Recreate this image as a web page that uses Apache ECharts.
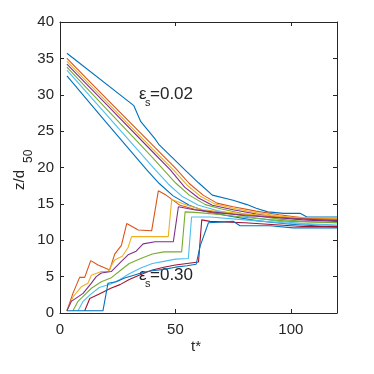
<!DOCTYPE html>
<html>
<head>
<meta charset="utf-8">
<script src="https://cdn.jsdelivr.net/npm/echarts@6/dist/echarts.min.js"></script>
<style>
html,body{margin:0;padding:0;background:#fff}
#main{width:374px;height:374px}
</style>
</head>
<body>
<div id="main"></div>
<script>
// tick values
var xTicks = [0, 50, 100];
var yTicks = [0, 5, 10, 15, 20, 25, 30, 35, 40];

// eps_s = 0.02 group (falling lines), [t*, z/d50]
var up1 = [[3,35.7],[32,28.5],[35,26.3],[41,24.0],[43,23.1],[54,19.7],[60,17.9],[66,16.2],[75,15.5],[81,14.9],[85,14.4],[90,13.9],[97,13.7],[104,13.7],[107,13.2],[120,13.2]];
var up2 = [[3,35.0],[20,29.5],[40,23.1],[50,19.9],[56,17.8],[62,16.2],[68,15.1],[75,14.6],[85,14.0],[95,13.5],[105,13.1],[120,12.9]];
var up3 = [[3,34.6],[20,29.1],[40,22.6],[49,19.7],[55,17.6],[61,16.0],[67,15.0],[75,14.4],[85,13.8],[95,13.3],[105,13.0],[120,12.8]];
var up4 = [[3,34.2],[20,28.7],[40,22.2],[47.7,19.7],[54,17.3],[60,15.8],[66,14.8],[75,14.2],[85,13.6],[95,13.1],[105,12.8],[120,12.6]];
var up5 = [[3,33.8],[20,28.1],[40,21.4],[44.8,19.7],[50,17.9],[56,16.2],[63,14.9],[70,14.3],[80,13.6],[95,12.9],[105,12.6],[120,12.4]];
var up6 = [[3,33.4],[20,27.3],[41.2,19.7],[47,17.7],[53,16.0],[60,14.8],[68,14.1],[80,13.3],[95,12.6],[105,12.3],[120,12.1]];
var up7 = [[3,32.6],[20,26.2],[37.5,19.7],[43,17.8],[49,16.1],[56,14.8],[63,14.0],[72,13.4],[85,12.7],[100,12.2],[120,11.8]];

// eps_s = 0.30 group (rising steps)
var low1 = [[3,0.3],[5.6,2.7],[8.5,4.9],[10.7,4.9],[13.3,7.2],[16.5,6.6],[21.5,5.9],[23.7,8.1],[26.6,9.3],[28.9,12.3],[33.9,11.4],[39.7,11.3],[42.6,16.8],[45.5,16.3],[52,14.8],[59,14.2],[66,13.8],[75,13.6],[90,13.3],[105,13.0],[120,12.9]];
var low2 = [[3,0.3],[5.6,2.2],[9.2,3.6],[12.1,4.1],[13.6,5.2],[17.9,5.7],[20.8,5.7],[23.7,7.3],[27,7.8],[29.5,9.0],[31,10.5],[46.9,10.5],[48.4,15.6],[55,14.8],[62,14.2],[70,13.9],[85,13.5],[100,13.2],[120,13.0]];
var low3 = [[3,0.3],[4.9,1.6],[10,2.7],[13.6,4.1],[15.7,5.0],[17.9,5.5],[22.2,5.7],[26.6,7.1],[29.5,8.0],[33,8.5],[36,9.5],[41.2,9.8],[49.1,9.8],[51.3,14.6],[58,14.2],[66,13.9],[80,13.4],[100,13.0],[120,12.7]];
var low4 = [[5.6,0.3],[7.8,1.6],[10.7,2.5],[13.6,3.4],[17.9,4.3],[22,4.8],[26,5.8],[30,6.8],[35,7.5],[40,8.1],[45,8.4],[52.7,8.4],[54.2,13.9],[60,13.8],[70,13.5],[85,13.0],[100,12.6],[120,12.4]];
var low5 = [[7.8,0.3],[10,1.6],[13,2.5],[17,3.5],[22,4.0],[26,4.6],[30,5.4],[35,6.2],[40,6.8],[45,7.1],[50,7.4],[55.6,7.5],[57,13.2],[65,13.2],[80,12.8],[100,12.3],[120,12.0]];
var low6 = [[10.7,0.3],[12.9,2.0],[17,2.6],[22,3.4],[26,3.9],[30,4.6],[35,5.3],[40,5.9],[45,6.3],[50,6.6],[55,6.8],[60,7.0],[61.4,12.8],[65,12.6],[80,12.4],[95,12.1],[105,11.9],[120,11.9]];
var low7 = [[3,0.3],[18.6,0.3],[20.8,4.1],[24.4,4.3],[28,4.8],[32,5.2],[36,5.6],[40,5.8],[45,6.0],[50,6.3],[55,6.5],[59,6.7],[60.7,9.2],[64.3,12.4],[75,12.6],[78,12.0],[91,12.0],[101,11.7],[120,11.7]];

var blue = '#0072BD', orange = '#D95319', yellow = '#EDB120', purple = '#7E2F8E',
    green = '#77AC30', cyan = '#4DBEEE', red = '#A2142F';
var lines = [up1, up2, up3, up4, up5, up6, up7, low1, low2, low3, low4, low5, low6, low7];
var lineColors = [blue, orange, yellow, purple, green, cyan, blue, orange, yellow, purple, green, cyan, red, blue];

var ink = '#262626';
var font = '"Liberation Sans", Arial, sans-serif';

var series = [];
for (var i = 0; i < lines.length; i++) {
    series.push({
        type: 'line',
        data: lines[i],
        showSymbol: false,
        silent: true,
        lineStyle: {color: lineColors[i], width: 1.1},
        z: 3
    });
}

function axisBase(show) {
    return {
        axisLine: {show: true, onZero: false, lineStyle: {color: ink, width: 1}},
        axisTick: {show: true, inside: true, length: 4, lineStyle: {color: ink}},
        axisLabel: {show: show, color: ink, fontSize: 15, fontFamily: font},
        splitLine: {show: false}
    };
}

var xb = axisBase(true), xt = axisBase(false), yl = axisBase(true), yr = axisBase(false);
xb.axisTick.customValues = xTicks; xb.axisLabel.customValues = xTicks; xb.axisLabel.margin = 9;
xt.axisTick.customValues = xTicks;
yl.axisTick.customValues = yTicks; yl.axisLabel.customValues = yTicks; yl.axisLabel.margin = 6;
yr.axisTick.customValues = yTicks;

// text helper for the annotations
function label(txt, x, y, size, rot) {
    return {type: 'text', x: x, y: y, rotation: rot || 0,
        style: {text: txt, font: size + 'px ' + font, fill: ink, align: 'left', verticalAlign: 'middle'}};
}

var chart = echarts.init(document.getElementById('main'));
chart.setOption({
    animation: false,
    backgroundColor: '#fff',
    grid: {left: 60, right: 37, top: 22, bottom: 61},
    xAxis: [
        Object.assign({type: 'value', min: 0, max: 120, position: 'bottom'}, xb),
        Object.assign({type: 'value', min: 0, max: 120, position: 'top'}, xt)
    ],
    yAxis: [
        Object.assign({type: 'value', min: 0, max: 40, interval: 5, position: 'left'}, yl),
        Object.assign({type: 'value', min: 0, max: 40, interval: 5, position: 'right'}, yr)
    ],
    series: series,
    graphic: [
        label('t*', 191, 347, 15),
        label('z/d', 20, 190, 15, Math.PI / 2),
        label('50', 29, 163, 12, Math.PI / 2),
        label('\u03b5', 139, 94, 17),
        label('s', 145, 103, 11),
        label('=0.02', 150, 94, 17),
        label('\u03b5', 139, 275, 17),
        label('s', 145, 284, 11),
        label('=0.30', 150, 275, 17)
    ]
});
</script>
</body>
</html>
